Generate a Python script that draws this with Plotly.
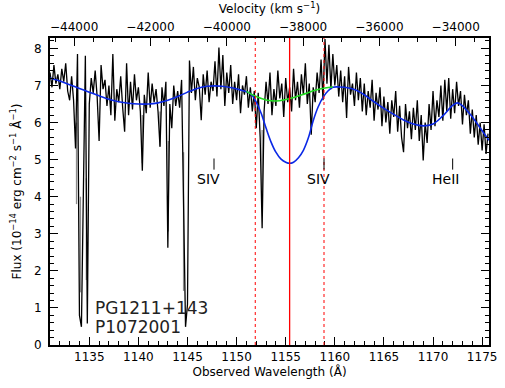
import plotly.graph_objects as go

# ---------------- data ----------------
wave_start = 1131.0
wave_step = 0.2
flux = [
    7.35, 6.95, 7.55, 7.05, 7.30,   # 1131
    6.90, 7.45, 7.10, 7.60, 6.85,   # 1132
    6.60, 7.25, 6.60, 5.30, 7.85,   # 1133
    0.80, 0.49, 4.50, 7.80, 0.58,   # 1134
    6.50, 7.20, 6.80, 7.40, 6.70,   # 1135
    5.50, 7.55, 6.90, 7.15, 6.45,   # 1136
    7.00, 6.20, 7.85, 6.05, 6.90,   # 1137
    6.55, 7.25, 6.40, 5.75, 7.60,   # 1138
    6.20, 7.10, 6.35, 7.30, 6.60,   # 1139
    6.95, 6.30, 4.70, 6.75, 6.25,   # 1140
    7.35, 6.40, 7.05, 6.55, 6.90,   # 1141
    6.30, 5.35, 6.95, 6.45, 7.10,   # 1142
    2.62, 6.50, 5.85, 7.00, 6.45,   # 1143
    6.85, 6.40, 7.15, 3.50, 0.49,   # 1144
    1.10, 7.67, 6.80, 7.50, 6.60,   # 1145
    7.20, 6.95, 6.06, 7.30, 6.75,   # 1146
    7.40, 6.55, 7.10, 6.85, 7.65,   # 1147
    6.70, 8.02, 6.90, 7.82, 6.45,   # 1148
    7.35, 6.80, 7.55, 6.50, 7.10,   # 1149
    6.60, 7.30, 6.25, 7.00, 6.75,   # 1150
    7.25, 6.40, 6.95, 6.30, 6.85,   # 1151
    5.85, 6.80, 5.60, 3.15, 6.30,   # 1152
    7.10, 6.50, 7.35, 6.20, 6.90,   # 1153
    6.45, 7.40, 6.65, 7.05, 6.15,   # 1154
    7.20, 6.55, 6.95, 6.30, 7.45,   # 1155
    6.60, 7.10, 6.40, 7.30, 6.75,   # 1156
    7.60, 6.50, 7.05, 5.67, 6.95,   # 1157
    6.55, 7.35, 6.80, 7.70, 6.60,   # 1158
    8.25, 7.05, 8.10, 6.90, 7.85,   # 1159
    7.00, 7.55, 6.70, 7.40, 6.55,   # 1160
    7.25, 6.12, 7.50, 6.75, 7.05,   # 1161
    6.45, 7.35, 6.60, 7.20, 6.30,   # 1162
    7.05, 6.20, 6.85, 6.40, 7.15,   # 1163
    6.05, 6.80, 6.35, 6.95, 5.90,   # 1164
    6.70, 6.00, 6.55, 5.70, 6.60,   # 1165
    6.15, 6.85, 5.75, 6.45, 5.60,   # 1166
    5.20, 6.50, 5.85, 6.30, 5.55,   # 1167
    6.40, 5.80, 6.60, 5.50, 6.20,   # 1168
    4.98, 6.00, 5.45, 6.50, 5.80,   # 1169
    6.85, 5.90, 6.60, 6.15, 7.00,   # 1170
    6.05, 7.15, 6.30, 7.20, 6.10,   # 1171
    6.90, 6.25, 7.10, 6.45, 6.85,   # 1172
    5.95, 6.75, 6.20, 6.60, 5.70,   # 1173
    6.35, 5.60, 6.20, 5.40, 6.00,   # 1174
    5.25, 5.95, 5.15, 5.70,         # 1175
]
wave = [round(wave_start + i * wave_step, 2) for i in range(len(flux))]

# grey parts of the spectrum inside the strong absorption lines
gray_wave = [1133.7, 1134.1, 1134.7, 1140.4, 1142.2, 1143.05, 1144.6, 1152.6]
gray_top = [6.0, 4.0, 4.5, 6.2, 6.3, 5.5, 5.2, 5.8]
gray_bot = [3.8, 1.42, 1.75, 4.9, 5.35, 3.06, 1.46, 4.0]

# continuum + SiV absorption model (blue)
cont_wave = [1131, 1132, 1133, 1134, 1135, 1136, 1137, 1138, 1139, 1140, 1141, 1142,
             1143, 1144, 1145, 1146, 1147, 1147.8, 1148.5, 1149.5, 1150.5, 1151.0,
             1151.5, 1152.0, 1152.5, 1153.0, 1153.5, 1154.0, 1154.5, 1155.0, 1155.4,
             1155.8, 1156.3, 1156.8, 1157.3, 1157.8, 1158.3, 1158.8, 1159.3, 1159.8,
             1160.4, 1161, 1162, 1163, 1164, 1165, 1166, 1167, 1168, 1169, 1170, 1171,
             1172, 1172.5, 1173, 1174, 1175, 1175.7]
cont_flux = [7.20, 7.12, 7.02, 6.92, 6.82, 6.72, 6.63, 6.56, 6.52, 6.50, 6.50, 6.53,
             6.60, 6.70, 6.82, 6.92, 6.98, 6.99, 6.98, 6.94, 6.87, 6.83,
             6.76, 6.55, 6.25, 5.85, 5.48, 5.20, 5.02, 4.93, 4.90,
             4.93, 5.05, 5.25, 5.58, 6.05, 6.42, 6.68, 6.85, 6.95,
             6.96, 6.95, 6.89, 6.75, 6.56, 6.38, 6.22, 6.07, 5.96, 5.91, 5.96, 6.18,
             6.46, 6.53, 6.45, 6.15, 5.78, 5.52]

# continuum without absorption (green)
green_wave = [1151.0, 1152.0, 1153.0, 1154.0, 1155.0, 1156.0, 1157.0, 1158.0, 1159.0, 1159.8]
green_flux = [6.84, 6.70, 6.61, 6.58, 6.62, 6.69, 6.78, 6.87, 6.93, 6.96]

# vertical reference lines
red_center = 1155.4
red_edges = [1151.9, 1158.9]

# line identifications
id_labels = ["SIV", "SIV", "HeII"]
id_waves = [1147.7, 1158.9, 1172.0]
id_level = [4.73, 5.03]
id_text_y = 4.47

obj_labels = ["PG1211+143", "P1072001"]
obj_y = [0.99, 0.49]
obj_x = 1135.4

# velocity axis ticks (km/s)
vel_ticks = [-44000, -42000, -40000, -38000, -36000, -34000]
vel_labels = [str(v).replace("-", "\u2212") for v in vel_ticks]

x_range = [1131.0, 1175.7]
y_range = [0, 8.28]
vel_range = [-44633, -33128]

FONT = "DejaVu Sans"

# ---------------- figure ----------------
fig = go.Figure()

gx, gy = [], []
for w, t, b in zip(gray_wave, gray_top, gray_bot):
    gx += [w, w, None]
    gy += [t, b, None]
fig.add_trace(go.Scatter(x=gx, y=gy, mode="lines", line=dict(color="#8c8c8c", width=1.3),
                         hoverinfo="skip", showlegend=False))
fig.add_trace(go.Scatter(x=wave, y=flux, mode="lines", line=dict(color="black", width=1.3),
                         showlegend=False))
fig.add_trace(go.Scatter(x=cont_wave, y=cont_flux, mode="lines",
                         line=dict(color="#0a28e6", width=1.6, shape="spline"),
                         showlegend=False))
fig.add_trace(go.Scatter(x=green_wave, y=green_flux, mode="lines",
                         line=dict(color="#22dd22", width=1.6, shape="spline"),
                         showlegend=False))
# invisible trace to carry the velocity axis
fig.add_trace(go.Scatter(x=vel_range, y=[-10, -10], xaxis="x2", mode="markers",
                         marker=dict(opacity=0), hoverinfo="skip", showlegend=False))

shapes = [dict(type="line", xref="x", yref="paper", x0=red_center, x1=red_center,
               y0=0, y1=1, line=dict(color="#ff0000", width=1.3))]
for w in red_edges:
    shapes.append(dict(type="line", xref="x", yref="paper", x0=w, x1=w, y0=0, y1=1,
                       line=dict(color="#ff0000", width=1, dash="dot")))
for w in id_waves:
    shapes.append(dict(type="line", xref="x", yref="y", x0=w, x1=w,
                       y0=id_level[0], y1=id_level[1], line=dict(color="black", width=1)))

annotations = []
for lab, w in zip(id_labels, id_waves):
    annotations.append(dict(x=w, y=id_text_y, xref="x", yref="y", text=lab,
                            showarrow=False, xanchor="right", xshift=8,
                            font=dict(family=FONT, size=14, color="black")))
for lab, yy in zip(obj_labels, obj_y):
    annotations.append(dict(x=obj_x, y=yy, xref="x", yref="y", text=lab,
                            showarrow=False, xanchor="left",
                            font=dict(family=FONT, size=17, color="#222222")))

axis_common = dict(showline=True, linecolor="black", linewidth=2, ticks="inside",
                   tickcolor="black", tickwidth=1, showgrid=False, zeroline=False,
                   tickfont=dict(family=FONT, size=12, color="black"))

fig.update_layout(
    width=505, height=388,
    margin=dict(l=50, r=8, t=34, b=43),
    paper_bgcolor="white", plot_bgcolor="white",
    shapes=shapes, annotations=annotations,
    xaxis=dict(range=x_range, dtick=5, tick0=1135, ticklen=8,
               minor=dict(ticks="inside", dtick=1, ticklen=4, tickcolor="black"),
               title=dict(text="Observed Wavelength (Å)", standoff=4,
                          font=dict(family=FONT, size=12, color="black")),
               mirror=False, **axis_common),
    xaxis2=dict(range=vel_range, overlaying="x", side="top",
                tickmode="array", tickvals=vel_ticks, ticktext=vel_labels,
                ticklen=8, minor=dict(ticks="inside", dtick=500, tick0=-44000,
                                      ticklen=4, tickcolor="black"),
                title=dict(text="Velocity (km s<sup>−1</sup>)", standoff=4,
                           font=dict(family=FONT, size=12, color="black")),
                **axis_common),
    yaxis=dict(range=y_range, dtick=1, tick0=0, ticklen=8, mirror="ticks",
               minor=dict(ticks="inside", dtick=0.2, ticklen=4, tickcolor="black"),
               ticklabelstandoff=4,
               title=dict(text="Flux (10<sup>−14</sup> erg cm<sup>−2</sup> s<sup>−1</sup> Å<sup>−1</sup>)",
                          standoff=10, font=dict(family=FONT, size=12, color="black")),
               **axis_common),
)

fig.write_html("out.html")
